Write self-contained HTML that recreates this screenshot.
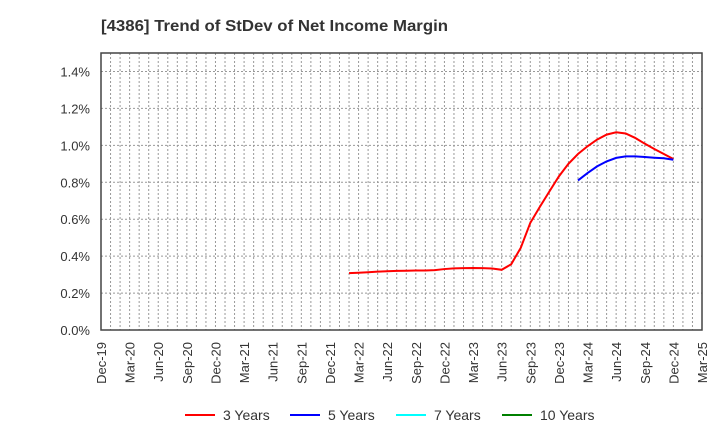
<!DOCTYPE html>
<html><head><meta charset="utf-8"><style>
body{margin:0;background:#fff;font-family:"Liberation Sans",Arial,sans-serif}
svg text{font-family:"Liberation Sans",Arial,sans-serif}
</style></head><body>
<svg id="c" width="720" height="440">
<text x="101" y="31" font-size="16" font-weight="bold" fill="#333" textLength="347" lengthAdjust="spacingAndGlyphs">[4386]  Trend of StDev of Net Income Margin</text>
</svg>
<script>
const xLabels=["Dec-19","Mar-20","Jun-20","Sep-20","Dec-20","Mar-21","Jun-21","Sep-21","Dec-21","Mar-22","Jun-22","Sep-22","Dec-22","Mar-23","Jun-23","Sep-23","Dec-23","Mar-24","Jun-24","Sep-24","Dec-24","Mar-25"];
const yTicks=[0,0.2,0.4,0.6,0.8,1.0,1.2,1.4];
const red3Start=26;
const red3=[0.308,0.31,0.313,0.316,0.318,0.32,0.321,0.322,0.322,0.324,0.33,0.334,0.335,0.336,0.335,0.333,0.326,0.356,0.445,0.58,0.667,0.75,0.832,0.9,0.953,0.995,1.031,1.058,1.071,1.064,1.04,1.009,0.98,0.953,0.926];
const blue5Start=50;
const blue5=[0.81,0.85,0.886,0.913,0.932,0.94,0.94,0.937,0.933,0.93,0.922];
const legendNames=["3 Years","5 Years","7 Years","10 Years"];
const legendColors=["#ff0000","#0000ff","#00ffff","#008000"];

const svg=document.getElementById('c');const NS="http://www.w3.org/2000/svg";
const L=101,R=702,T=53,B=330,months=63,yMax=1.5;
const xs=m=>L+(R-L)*m/months;
const ys=v=>B-(B-T)*v/yMax;
function mk(t,a,p){const e=document.createElementNS(NS,t);for(const k in a)e.setAttribute(k,a[k]);(p||svg).appendChild(e);return e;}
for(let m=1;m<months;m++){const l=mk('line',{x1:xs(m),x2:xs(m),y1:T,y2:B,stroke:'#999','stroke-dasharray':'2,2','stroke-width':1});

}
yTicks.forEach(v=>{if(v>0){const g=mk('line',{x1:L,x2:R,y1:ys(v),y2:ys(v),stroke:'#999','stroke-dasharray':'2,2'});

}
const t=mk('text',{x:L-11,y:ys(v)+5,'text-anchor':'end','font-size':13,fill:'#333'});t.textContent=v.toFixed(1)+'%';

});
xLabels.forEach((s,i)=>{const x=xs(i*3);const t=mk('text',{x:0,y:0,transform:`translate(${x+5},${B+12}) rotate(-90)`,'text-anchor':'end','font-size':13,fill:'#333'});t.textContent=s;

});
const fr=mk('rect',{x:L,y:T,width:R-L,height:B-T,fill:'none',stroke:'#444','stroke-width':1.5});


function series(arr,start,col,name){const p=mk('polyline',{points:arr.map((v,i)=>xs(start+i)+','+ys(v)).join(' '),fill:'none',stroke:col,'stroke-width':2});

}
series(red3,red3Start,'#ff0000','line-3-years');
series(blue5,blue5Start,'#0000ff','line-5-years');
const lx=[185,290,396,502];
legendNames.forEach((n,i)=>{const g=mk('g',{});


mk('line',{x1:lx[i],x2:lx[i]+30,y1:415,y2:415,stroke:legendColors[i],'stroke-width':2},g);
const t=mk('text',{x:lx[i]+38,y:420,'font-size':14,fill:'#333'},g);t.textContent=n;});
</script>
</body></html>
